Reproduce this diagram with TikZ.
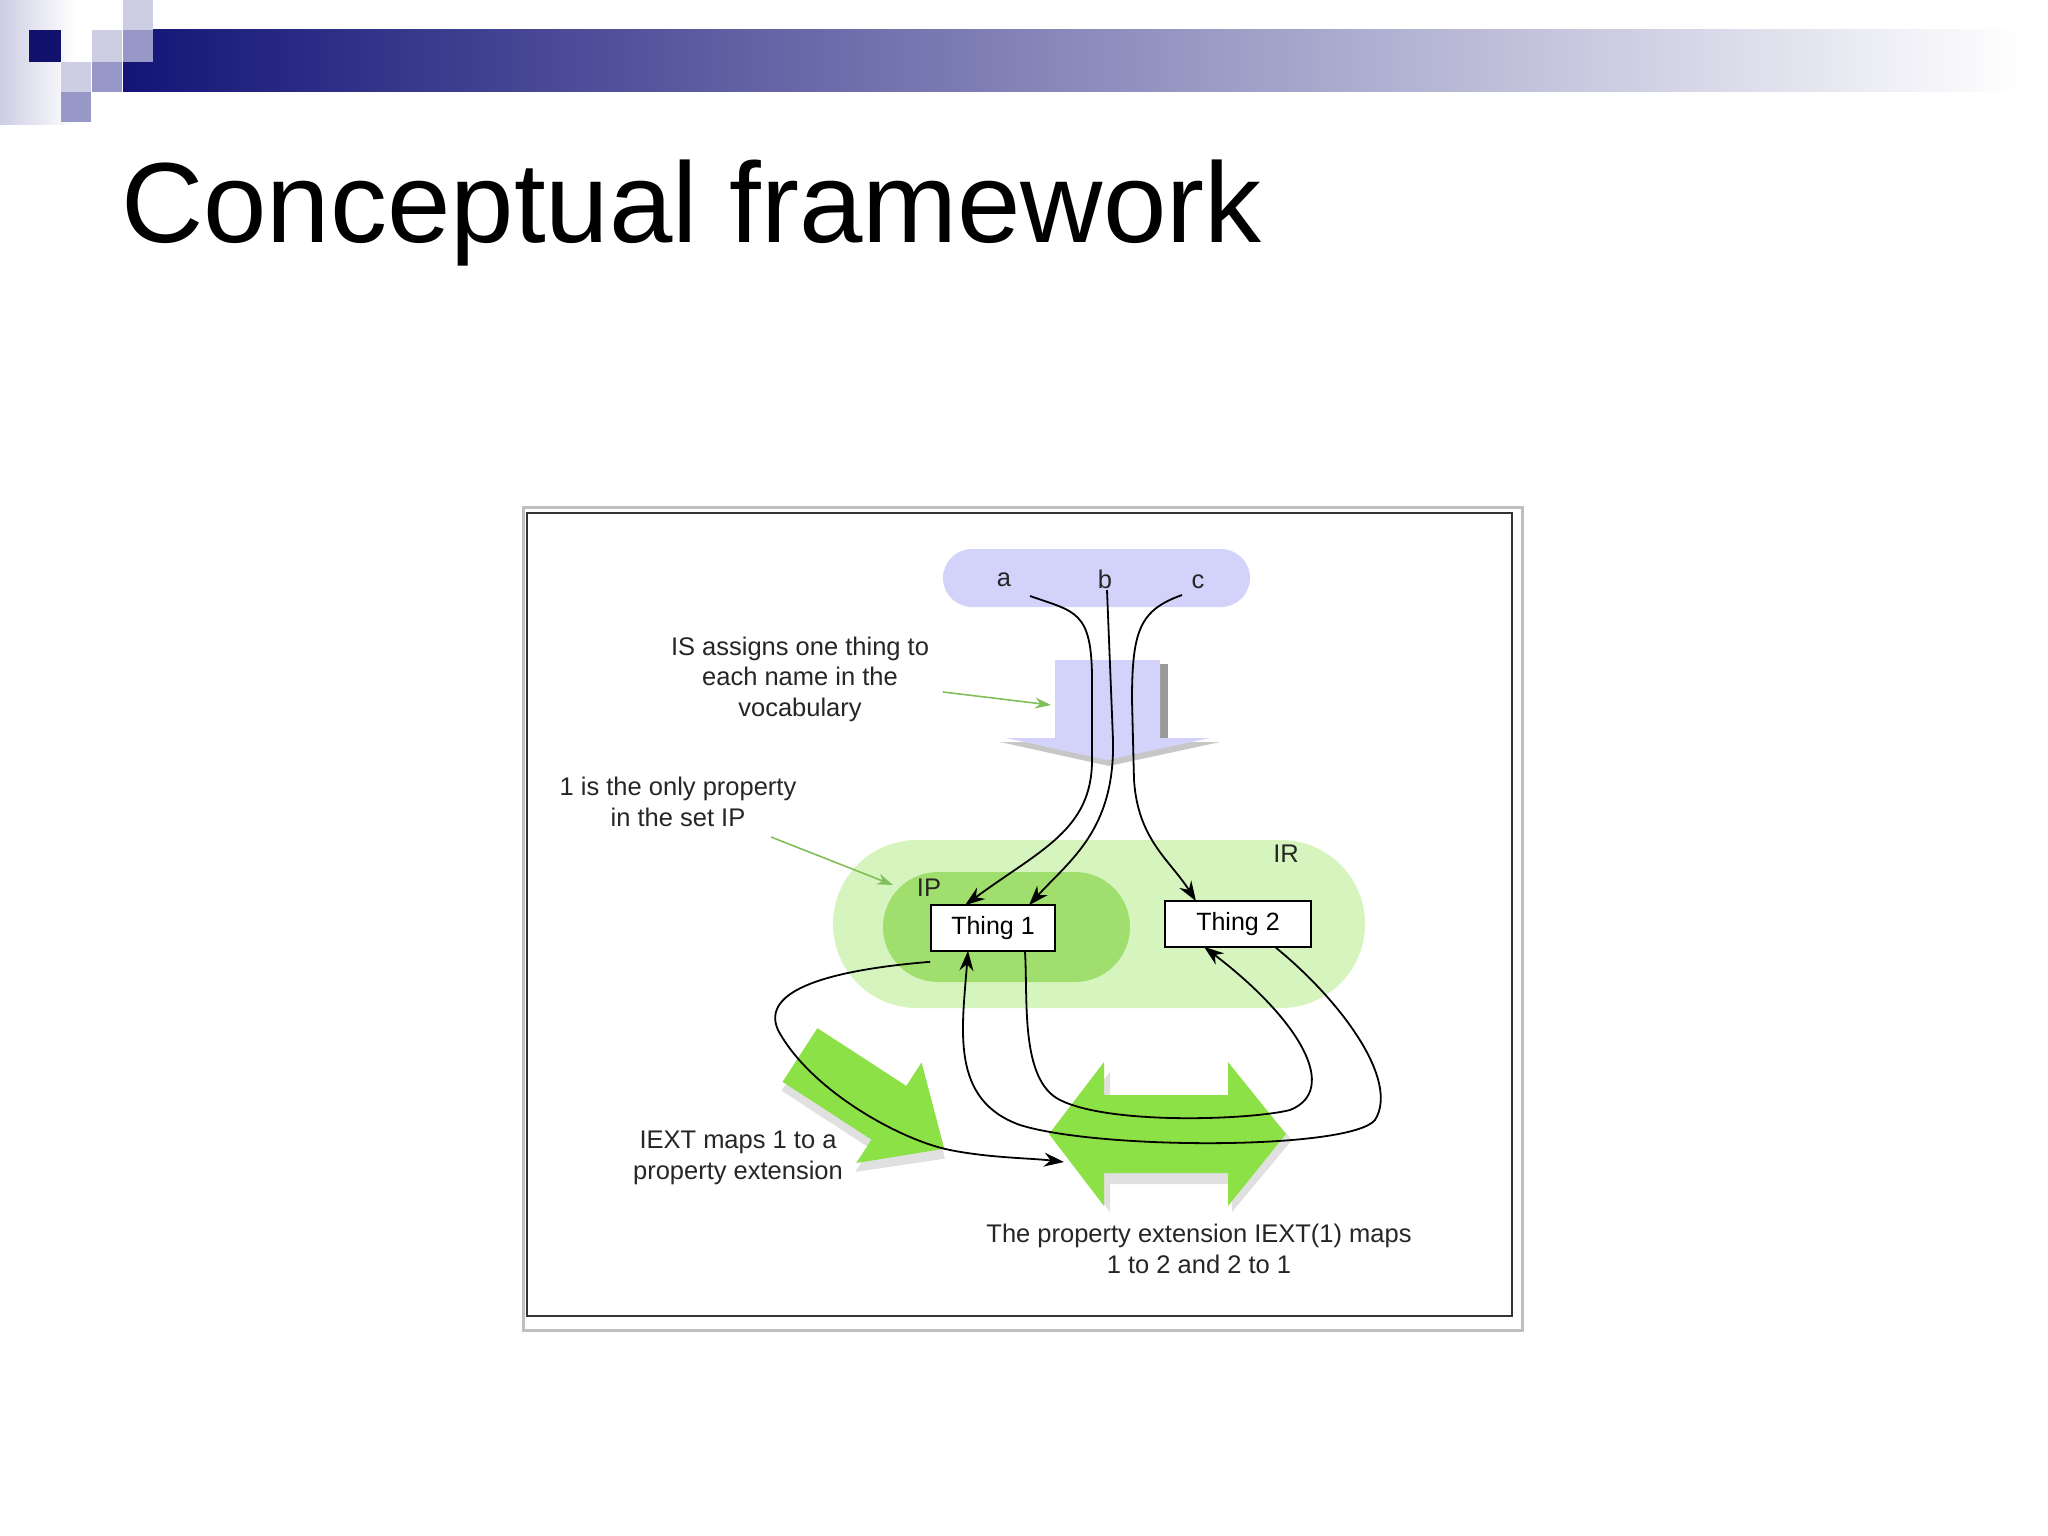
\documentclass[tikz,border=0pt]{standalone}
\usepackage{fontspec}
\setmainfont{Liberation Sans}
\usetikzlibrary{arrows.meta}
\definecolor{navy}{RGB}{20,20,120}
\definecolor{lav1}{RGB}{205,205,228}
\definecolor{lav2}{RGB}{152,152,200}
\definecolor{pillL}{RGB}{210,210,250}
\definecolor{irg}{RGB}{214,245,190}
\definecolor{ipg}{RGB}{160,222,110}
\definecolor{arrg}{RGB}{140,225,70}
\definecolor{thin}{RGB}{130,190,90}
\tikzset{
  lbl/.style={font=\fontsize{25.5}{30.5}\selectfont, align=center, text=black!85},
  thing/.style={draw, line width=1.6pt, fill=white, minimum width=124pt, minimum height=46pt, font=\fontsize{25}{28}\selectfont, inner sep=0pt},
  curve/.style={line width=1.8pt, -{Stealth[length=20pt,width=14pt]}},
  thinarr/.style={line width=1.6pt, draw=thin, fill=thin, -{Stealth[length=16pt,width=11pt]}}
}
\begin{document}
\begin{tikzpicture}[x=1pt,y=-1pt]
\useasboundingbox (0,0) rectangle (2048,1536);
\fill[white] (0,0) rectangle (2048,1536);
% header decoration
\shade[left color=lav1, right color=white] (0,0) rectangle (75,125);
\shade[left color=navy, right color=white] (123,30) rectangle (2020,92);
\fill[navy!90!black] (29,30) rectangle (61,62);
\fill[lav1] (123,0) rectangle (153,30);
\fill[lav1] (92,30) rectangle (122,62);
\fill[lav2] (123,30) rectangle (153,62);
\fill[lav1] (61,62) rectangle (91,92);
\fill[lav2] (92,62) rectangle (122,92);
\fill[lav2] (61,92) rectangle (91,122);
\node[anchor=base west, font=\fontsize{114}{130}\selectfont, inner sep=0pt] (title) at (121,242) {Conceptual framework};
% frame
\draw[black!25, line width=3pt] (523,507) rectangle (1522,1330);
\draw[black!80, line width=2.5pt, fill=white] (527,513) rectangle (1512,1316);
% lavender pill
\fill[pillL] (943,549) [rounded corners=29pt] rectangle (1250,607);
\node[lbl] (a) at (1004,580) {a};
\node[lbl] (b) at (1105,579) {b};
\node[lbl] (c) at (1198,582) {c};
% IS block arrow
\fill[black!40] (1160,664) rectangle (1168,738);
\fill[black!22] (1000,742) -- (1220,742) -- (1109,766) -- cycle;
\fill[pillL] (1055,660) -- (1160,660) -- (1160,738) -- (1210,738) -- (1107,760) -- (1006,738) -- (1055,738) -- cycle;
% IR / IP pills
\fill[irg, rounded corners=84pt] (833,840) rectangle (1365,1008);
\fill[ipg, rounded corners=55pt] (883,872) rectangle (1130,982);
\node[lbl] (IR) at (1286,854) {IR};
\node[lbl] (IP) at (929,888) {IP};
% green block arrows
\begin{scope}[shift={(800,1055)}, rotate=-33]
\fill[black!12] (4,-26) -- (110,-26) -- (110,-54) -- (178,8) -- (110,68) -- (110,40) -- (4,40) -- cycle;
\fill[arrg] (0,-32) -- (106,-32) -- (106,-60) -- (172,0) -- (106,60) -- (106,32) -- (0,32) -- cycle;
\end{scope}
\fill[black!12] (1056,1140) -- (1110,1072) -- (1110,1100) -- (1232,1100) -- (1232,1072) -- (1292,1140) -- (1232,1212) -- (1232,1184) -- (1110,1184) -- (1110,1212) -- cycle;
\fill[arrg] (1049,1134) -- (1104,1062) -- (1104,1095) -- (1228,1095) -- (1228,1062) -- (1286,1134) -- (1228,1206) -- (1228,1173) -- (1104,1173) -- (1104,1206) -- cycle;
% things
\node[thing] (t1) at (993,928) {Thing 1};
\node[thing, minimum width=146pt] (t2) at (1238,924) {Thing 2};
% labels
\node[lbl] (isl) at (800,679) {IS assigns one thing to\\each name in the\\vocabulary};
\node[lbl] (ipl) at (678,802) {1 is the only property\\in the set IP};
\node[lbl] (iextl) at (738,1158) {IEXT maps 1 to a\\property extension};
\node[lbl] (pel) at (1199,1249) {The property extension IEXT(1) maps\\1 to 2 and 2 to 1};
\coordinate (isA) at (1051,705);
\coordinate (ipA) at (893,885);
\draw[thinarr] (943,692) -- (isA);
\draw[thinarr] (771,837) -- (ipA);
% curves
\coordinate (a0) at (1030,596);
\coordinate (b0) at (1107,590);
\coordinate (c0) at (1182,595);
\draw[curve] (a0) .. controls (1075,612) and (1092,610) .. (1092,680) -- (1092,760) .. controls (1092,830) and (1040,850) .. ([xshift=-28pt,yshift=-1pt]t1.north);
\draw[curve] (b0) -- (1113,740) .. controls (1115,830) and (1070,860) .. ([xshift=36pt,yshift=-1pt]t1.north);
\draw[curve] (c0) .. controls (1140,610) and (1132,630) .. (1132,700) -- (1134,780) .. controls (1138,840) and (1170,860) .. ([xshift=-42pt,yshift=-1pt]t2.north);
\coordinate (dst) at (1064,1162);
\draw[curve] ([yshift=-10pt]t1.south west) .. controls (830,970) and (760,990) .. (778,1030) .. controls (810,1090) and (900,1140) .. (950,1150) .. controls (990,1158) and (1030,1158) .. (dst);
\draw[curve] ([xshift=32pt]t1.south) .. controls (1028,1000) and (1020,1080) .. (1060,1100) .. controls (1110,1125) and (1250,1120) .. (1290,1110) .. controls (1340,1090) and (1300,1020) .. ([xshift=-34pt,yshift=1pt]t2.south);
\draw[curve] ([xshift=38pt]t2.south) .. controls (1340,1000) and (1400,1080) .. (1375,1120) .. controls (1350,1150) and (1100,1150) .. (1020,1125) .. controls (950,1100) and (962,1030) .. ([xshift=-25pt,yshift=1pt]t1.south);
\end{tikzpicture}
\end{document}
